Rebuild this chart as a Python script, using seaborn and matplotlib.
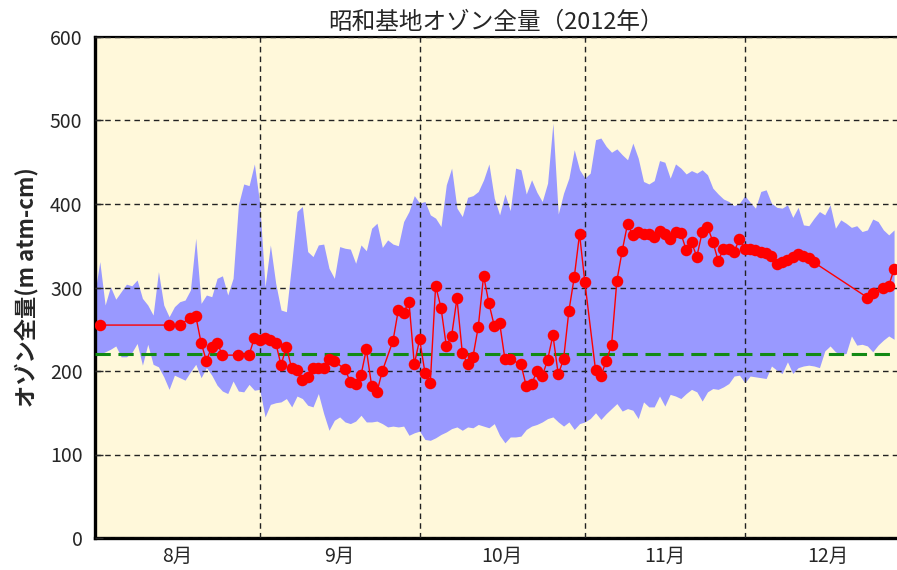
import numpy as np
import pandas as pd
import matplotlib
matplotlib.use("Agg")
import matplotlib.pyplot as plt
import seaborn as sns

sns.set_style("white")
plt.rcParams['font.family'] = ['Noto Sans CJK JP', 'DejaVu Sans']

# ---------------- data ----------------
start = pd.Timestamp("2012-08-01")

# observed daily total ozone (day offset from Aug 1, value in m atm-cm)
obs_day = [1, 14, 16, 18, 19, 20, 21, 22, 23, 24, 27, 29, 30, 31, 32, 33, 34, 35, 36, 37,
           38, 39, 40, 41, 42, 43, 44, 45, 47, 48, 49, 50, 51, 52, 53, 54, 56, 57, 58, 59,
           60, 61, 62, 63, 64, 65, 66, 67, 68, 69, 70, 71, 72, 73, 74, 75, 76, 77, 78, 80,
           81, 82, 83, 84, 85, 86, 87, 88, 89, 90, 91, 92, 94, 95, 96, 97, 98, 99, 100, 101,
           102, 103, 104, 105, 106, 107, 108, 109, 110, 111, 112, 113, 114, 115, 116, 117, 118, 119, 120, 121,
           122, 123, 124, 125, 126, 127, 128, 129, 130, 131, 132, 133, 134, 135, 145, 146, 148, 149, 150]
obs_val = [255, 255, 255, 264, 266, 234, 212, 229, 234, 219, 219, 219, 240, 237, 240, 237, 234, 207, 229, 203,
           201, 189, 193, 203, 204, 204, 214, 212, 202, 187, 184, 195, 226, 182, 175, 200, 236, 273, 270, 283,
           208, 238, 198, 186, 302, 276, 230, 242, 287, 222, 208, 217, 253, 314, 281, 254, 258, 214, 214, 208,
           182, 184, 200, 194, 213, 243, 196, 214, 272, 312, 364, 306, 201, 194, 212, 231, 308, 344, 376, 363,
           366, 364, 364, 361, 368, 364, 358, 366, 365, 345, 354, 337, 366, 373, 355, 332, 346, 346, 343, 358,
           346, 346, 345, 343, 341, 338, 328, 330, 333, 337, 340, 338, 335, 330, 288, 293, 299, 302, 322]

# historical range (daily max / min), day 0 .. 150
band_upper = [290, 331, 279, 301, 286, 295, 304, 302, 309, 287, 279, 267, 319, 279, 265, 277, 283, 285, 297, 359,
              281, 291, 289, 311, 314, 291, 311, 399, 424, 422, 448, 401, 301, 351, 305, 273, 271, 329, 391, 397,
              343, 337, 351, 352, 323, 311, 349, 347, 346, 329, 351, 344, 371, 377, 348, 357, 352, 350, 379, 391,
              410, 401, 403, 387, 383, 373, 423, 443, 395, 385, 408, 410, 415, 429, 448, 407, 387, 412, 392, 443,
              441, 412, 429, 414, 403, 425, 497, 388, 413, 431, 465, 441, 431, 437, 477, 479, 469, 462, 466, 459,
              453, 473, 455, 427, 424, 428, 452, 450, 431, 448, 443, 436, 440, 437, 441, 435, 419, 412, 406, 403,
              398, 401, 410, 402, 395, 415, 417, 401, 396, 395, 399, 384, 396, 375, 374, 383, 391, 387, 399, 371,
              381, 377, 372, 374, 367, 369, 382, 379, 369, 363, 369]
band_lower = [217, 220, 223, 226, 230, 217, 217, 222, 233, 207, 232, 208, 205, 193, 178, 195, 192, 189, 199, 208,
              192, 204, 195, 183, 176, 173, 188, 176, 175, 184, 177, 178, 145, 160, 162, 163, 167, 157, 170, 167,
              159, 157, 173, 149, 129, 141, 145, 139, 137, 140, 147, 139, 139, 140, 137, 133, 134, 133, 134, 123,
              126, 128, 118, 117, 120, 124, 127, 131, 133, 129, 133, 132, 136, 134, 132, 137, 123, 114, 121, 121,
              122, 130, 134, 136, 139, 143, 145, 139, 134, 139, 130, 137, 139, 143, 150, 142, 149, 155, 161, 152,
              155, 153, 143, 163, 157, 157, 170, 158, 172, 170, 167, 173, 178, 175, 164, 175, 179, 178, 181, 185,
              194, 195, 186, 194, 193, 192, 191, 206, 201, 197, 211, 197, 204, 206, 207, 206, 204, 224, 230, 223,
              220, 221, 242, 231, 232, 230, 223, 231, 237, 242, 238]
band_day = list(range(len(band_upper)))

reference_level = 220
month_numbers = [8, 9, 10, 11, 12]
month_labels = ["8月", "9月", "10月", "11月", "12月"]
title = "昭和基地オゾン全量（2012年）"
ylabel = "オゾン全量(m atm-cm)"

# ---------------- figure ----------------
fig = plt.figure(figsize=(8.97, 5.70), dpi=100)
ax = fig.add_axes([95 / 897, 32 / 570, (897 - 95) / 897, (538 - 37) / 570])
ax.set_facecolor("#FFF8DA")

ax.fill_between(band_day, band_lower, band_upper, color="#9999FF", linewidth=0, zorder=1)

ax.axhline(reference_level, color="#138A13", linestyle=(0, (5, 2.5)), linewidth=2.2, zorder=2.8)

df = pd.DataFrame({"day": obs_day, "ozone": obs_val})
sns.lineplot(data=df, x="day", y="ozone", ax=ax, color="#FF0000", linewidth=1.0,
             marker="o", markersize=8.3, markeredgewidth=0, zorder=3)

# month boundaries and centres
bounds = [(pd.Timestamp(2012, m, 1) - start).days for m in month_numbers] + \
         [(pd.Timestamp(2013, 1, 1) - start).days]
centres = [(bounds[i] + bounds[i + 1]) / 2 for i in range(len(month_numbers))]

ax.set_xlim(0.1, 150.55)
ax.set_ylim(0, 600)
ax.set_xticks(centres)
ax.set_xticklabels(month_labels)
ax.set_xticks(bounds[1:-1], minor=True)
ax.set_yticks(range(0, 601, 100))

ax.tick_params(axis="x", which="major", length=0, labelsize=14, pad=6)
ax.tick_params(axis="x", which="minor", direction="in", length=6, width=1, color="black")
ax.tick_params(axis="y", direction="in", length=6, width=1, labelsize=14, pad=9, left=True)

ax.set_axisbelow(False)
ax.grid(False)
ax.grid(True, axis="x", which="minor", color="#222222", linestyle=(0, (4, 3)), linewidth=1.0, zorder=2.5)
ax.grid(True, axis="y", which="major", color="#222222", linestyle=(0, (4, 3)), linewidth=1.0, zorder=2.5)

for s in ["left", "bottom"]:
    ax.spines[s].set_linewidth(2.4)
    ax.spines[s].set_color("black")
ax.spines["top"].set_linewidth(1.6)
ax.spines["top"].set_color("black")
ax.spines["right"].set_visible(False)

ax.set_xlabel("")
ax.set_ylabel(ylabel, fontsize=16, fontweight="bold", labelpad=8)
ax.set_title(title, fontsize=17, pad=6)

fig.savefig("out.png", dpi=100)
